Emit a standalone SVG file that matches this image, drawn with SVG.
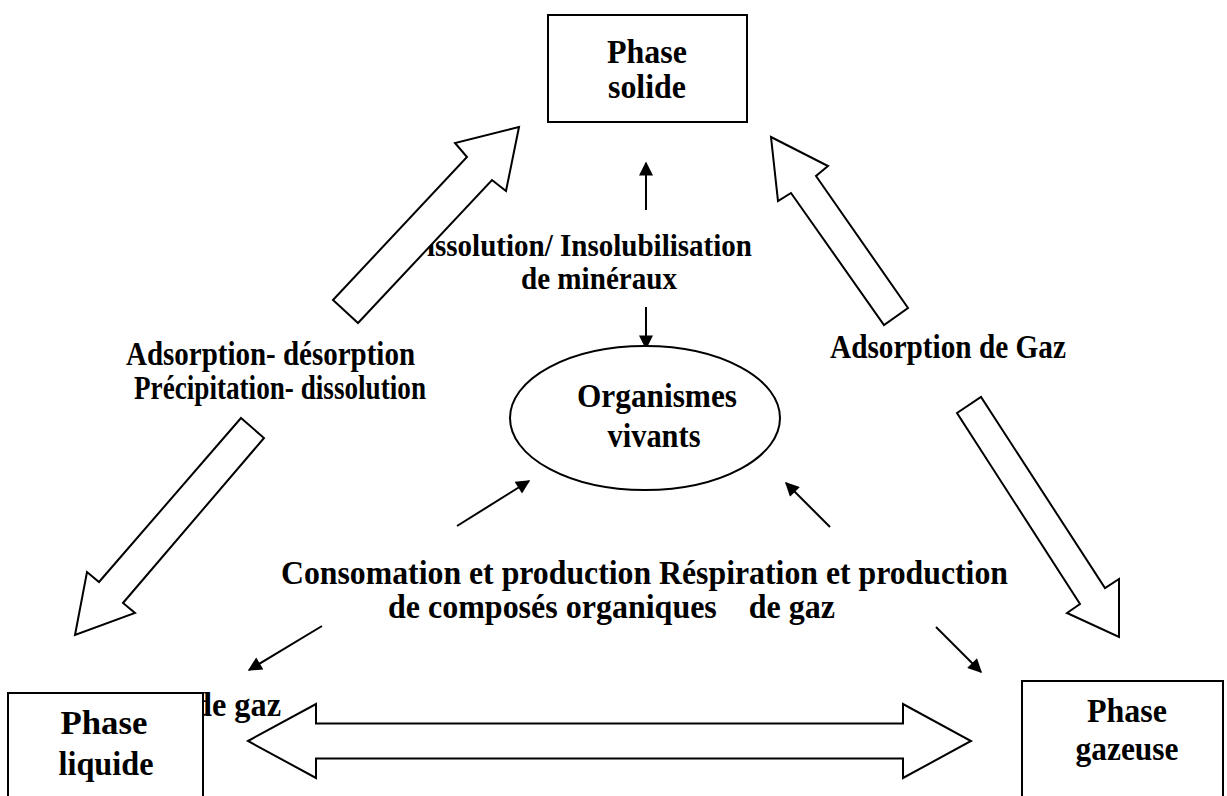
<svg xmlns="http://www.w3.org/2000/svg" width="1227" height="796" viewBox="0 0 1227 796">
<style>
text{font-family:"Liberation Serif","Times New Roman",serif;font-weight:bold;fill:#000;font-size:34px}
.sm{font-size:32px}
.nt{text-anchor:middle}
.box{fill:#fff;stroke:#000;stroke-width:2}
.fat{fill:#fff;stroke:#000;stroke-width:2;stroke-linejoin:miter}
.thin{fill:none;stroke:#000;stroke-width:2;marker-end:url(#ah)}
</style>
<defs>
<marker id="ah" viewBox="0 0 10 10" refX="9" refY="5" markerWidth="17" markerHeight="14" markerUnits="userSpaceOnUse" orient="auto">
<path d="M0,0 L10,5 L0,10 z" fill="#000"/>
</marker>
</defs>
<g id="labels">
<text class="sm" x="406" y="256" textLength="346" lengthAdjust="spacingAndGlyphs">Dissolution/ Insolubilisation</text>
<text class="sm" x="521" y="289" textLength="156" lengthAdjust="spacingAndGlyphs">de minéraux</text>
<text x="126" y="365" textLength="289" lengthAdjust="spacingAndGlyphs">Adsorption- désorption</text>
<text x="134" y="399" textLength="292" lengthAdjust="spacingAndGlyphs">Précipitation- dissolution</text>
<text x="830" y="358" textLength="236" lengthAdjust="spacingAndGlyphs">Adsorption de Gaz</text>
<text x="281" y="584" textLength="727" lengthAdjust="spacingAndGlyphs">Consomation et production Réspiration et production</text>
<text x="388" y="618" textLength="447" lengthAdjust="spacingAndGlyphs" xml:space="preserve">de composés organiques    de gaz</text>
<text x="194" y="716" textLength="87" lengthAdjust="spacingAndGlyphs">de gaz</text>
</g>
<g id="connectors">
<polygon class="fat" points="519,127 455,143 467,157 333,300 358,323 492,180 506,191"/>
<polygon class="fat" points="771,137 828,166 816,176 908,308 884,325 791,193 778,201"/>
<polygon class="fat" points="241,418 264,438 123,603 135,613 75,635 87,572 99,582"/>
<polygon class="fat" points="957,413 981,397 1105,588 1119,579 1119,637 1067,613 1080,604"/>
<polygon class="fat" points="248,741 316,704 316,723.5 903,723.5 903,704 971,741 903,778 903,758.5 316,758.5 316,778"/>
<line class="thin" x1="646" y1="210" x2="646" y2="163"/>
<line class="thin" x1="646" y1="307" x2="646" y2="348"/>
<line class="thin" x1="457" y1="526" x2="529" y2="481"/>
<line class="thin" x1="830" y1="527" x2="786" y2="483"/>
<line class="thin" x1="322" y1="626" x2="249" y2="670"/>
<line class="thin" x1="936" y1="627" x2="981" y2="672"/>
</g>
<g id="node-solide">
<rect class="box" x="548" y="15" width="199" height="107"/>
<text class="nt" x="647" y="63" textLength="80" lengthAdjust="spacingAndGlyphs">Phase</text>
<text class="nt" x="647" y="98" textLength="78" lengthAdjust="spacingAndGlyphs">solide</text>
</g>
<g id="node-organismes">
<ellipse class="box" cx="645" cy="418" rx="135" ry="72"/>
<text class="nt" x="657" y="407" textLength="160" lengthAdjust="spacingAndGlyphs">Organismes</text>
<text class="nt" x="654" y="447" textLength="93" lengthAdjust="spacingAndGlyphs">vivants</text>
</g>
<g id="node-liquide">
<rect class="box" x="8" y="693" width="195" height="110"/>
<text class="nt" x="104" y="734" textLength="87" lengthAdjust="spacingAndGlyphs">Phase</text>
<text class="nt" x="106" y="775" textLength="95" lengthAdjust="spacingAndGlyphs">liquide</text>
</g>
<g id="node-gazeuse">
<rect class="box" x="1022" y="681" width="201" height="122"/>
<text class="nt" x="1127" y="722" textLength="80" lengthAdjust="spacingAndGlyphs">Phase</text>
<text class="nt" x="1127" y="760" textLength="103" lengthAdjust="spacingAndGlyphs">gazeuse</text>
</g>
</svg>
